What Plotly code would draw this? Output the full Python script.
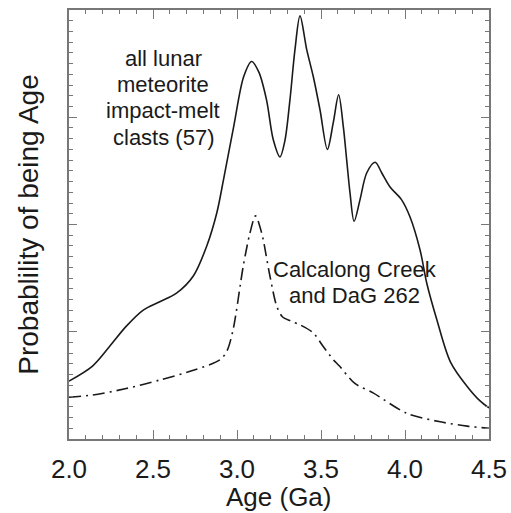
import plotly.graph_objects as go

# Solid curve: all lunar meteorite impact-melt clasts (57)
melt_age = [2.00, 2.14, 2.24, 2.34, 2.44, 2.54, 2.64, 2.74, 2.82, 2.88, 2.92, 2.98, 3.04,
            3.087, 3.13, 3.176, 3.216, 3.256, 3.285, 3.315, 3.345, 3.375, 3.415, 3.454,
            3.494, 3.538, 3.573, 3.605, 3.633, 3.653, 3.673, 3.697, 3.732, 3.772, 3.822,
            3.862, 3.911, 3.98, 4.03, 4.09, 4.13, 4.19, 4.27, 4.37, 4.45, 4.50]
melt_prob = [0.54, 0.68, 0.86, 1.05, 1.20, 1.28, 1.36, 1.52, 1.80, 2.11, 2.42, 2.91, 3.38,
             3.52, 3.42, 3.16, 2.79, 2.63, 2.78, 3.16, 3.63, 3.945, 3.63, 3.38,
             3.07, 2.70, 2.95, 3.21, 2.91, 2.60, 2.29, 2.03, 2.23, 2.48, 2.58,
             2.48, 2.35, 2.23, 2.07, 1.76, 1.45, 1.11, 0.72, 0.49, 0.35, 0.29]

# Dash-dot curve: Calcalong Creek and DaG 262
cc_age = [2.00, 2.14, 2.34, 2.54, 2.74, 2.90, 2.94, 2.977, 3.037, 3.077, 3.11, 3.147,
          3.196, 3.236, 3.27, 3.32, 3.375, 3.454, 3.51, 3.573, 3.61, 3.70, 3.81, 4.01,
          4.21, 4.37, 4.50]
cc_prob = [0.39, 0.41, 0.47, 0.55, 0.64, 0.74, 0.82, 1.02, 1.61, 1.92, 2.08, 1.92,
           1.52, 1.24, 1.14, 1.10, 1.065, 0.99, 0.87, 0.74, 0.68, 0.52, 0.43, 0.24,
           0.16, 0.12, 0.10]

x_tick_vals = [2.0, 2.5, 3.0, 3.5, 4.0, 4.5]
x_tick_text = ["2.0", "2.5", "3.0", "3.5", "4.0", "4.5"]

label_melt = ["all lunar", "meteorite", "impact-melt", "clasts (57)"]
label_cc = ["Calcalong Creek", "and DaG 262"]
x_title = "Age (Ga)"
y_title = "Probablility of being Age"

FONT = "Liberation Sans, Arial, sans-serif"
INK = "#1a1a1a"
FRAME = "#777777"

fig = go.Figure()
fig.add_trace(go.Scatter(x=melt_age, y=melt_prob, mode="lines",
                         line=dict(color=INK, width=1.6, shape="spline", smoothing=0.9),
                         showlegend=False, hoverinfo="skip"))
fig.add_trace(go.Scatter(x=cc_age, y=cc_prob, mode="lines",
                         line=dict(color=INK, width=1.6, shape="spline", smoothing=0.8,
                                   dash="12px,5px,2px,5px"),
                         showlegend=False, hoverinfo="skip"))

# annotations (one per line)
for i, t in enumerate(label_melt):
    fig.add_annotation(x=2.56, y=3.55 - i * 0.245, text=t, showarrow=False,
                       xanchor="center", yanchor="middle",
                       font=dict(family=FONT, size=22, color=INK))
for i, t in enumerate(label_cc):
    fig.add_annotation(x=3.70, y=1.58 - i * 0.245, text=t, showarrow=False,
                       xanchor="center", yanchor="middle",
                       font=dict(family=FONT, size=22, color=INK))

# x-axis title as a paper-anchored annotation for exact placement
fig.add_annotation(x=0.5, xref="paper", y=-0.135, yref="paper", text=x_title,
                   showarrow=False, xanchor="center", yanchor="middle",
                   font=dict(family=FONT, size=26, color=INK))

fig.update_xaxes(range=[2.0, 4.5], tickvals=x_tick_vals, ticktext=x_tick_text,
                 ticks="inside", ticklen=9, tickwidth=1.2, tickcolor=FRAME,
                 minor=dict(dtick=0.1, tick0=2.0, ticks="inside", ticklen=4,
                            tickwidth=1, tickcolor=FRAME),
                 showline=True, linecolor=FRAME, linewidth=1.6, mirror="allticks",
                 showgrid=False, zeroline=False, automargin=False,
                 ticklabelstandoff=6,
                 tickfont=dict(family=FONT, size=26, color=INK))
fig.update_yaxes(range=[0, 4], dtick=1, tick0=0, showticklabels=False,
                 ticks="inside", ticklen=8, tickwidth=1.2, tickcolor=FRAME,
                 minor=dict(dtick=0.1, tick0=0, ticks="inside", ticklen=4,
                            tickwidth=1, tickcolor=FRAME),
                 showline=True, linecolor=FRAME, linewidth=1.6, mirror="allticks",
                 showgrid=False, zeroline=False, automargin=False,
                 title=dict(text=y_title,
                            font=dict(family=FONT, size=28, color=INK), standoff=20))

fig.update_layout(width=511, height=513,
                  margin=dict(l=69, r=22, t=10, b=74),
                  paper_bgcolor="white", plot_bgcolor="white")

fig.write_html("out.html", config={"displayModeBar": False},
               post_script="document.body.style.margin='0';"
                           "document.body.style.overflow='hidden';")
